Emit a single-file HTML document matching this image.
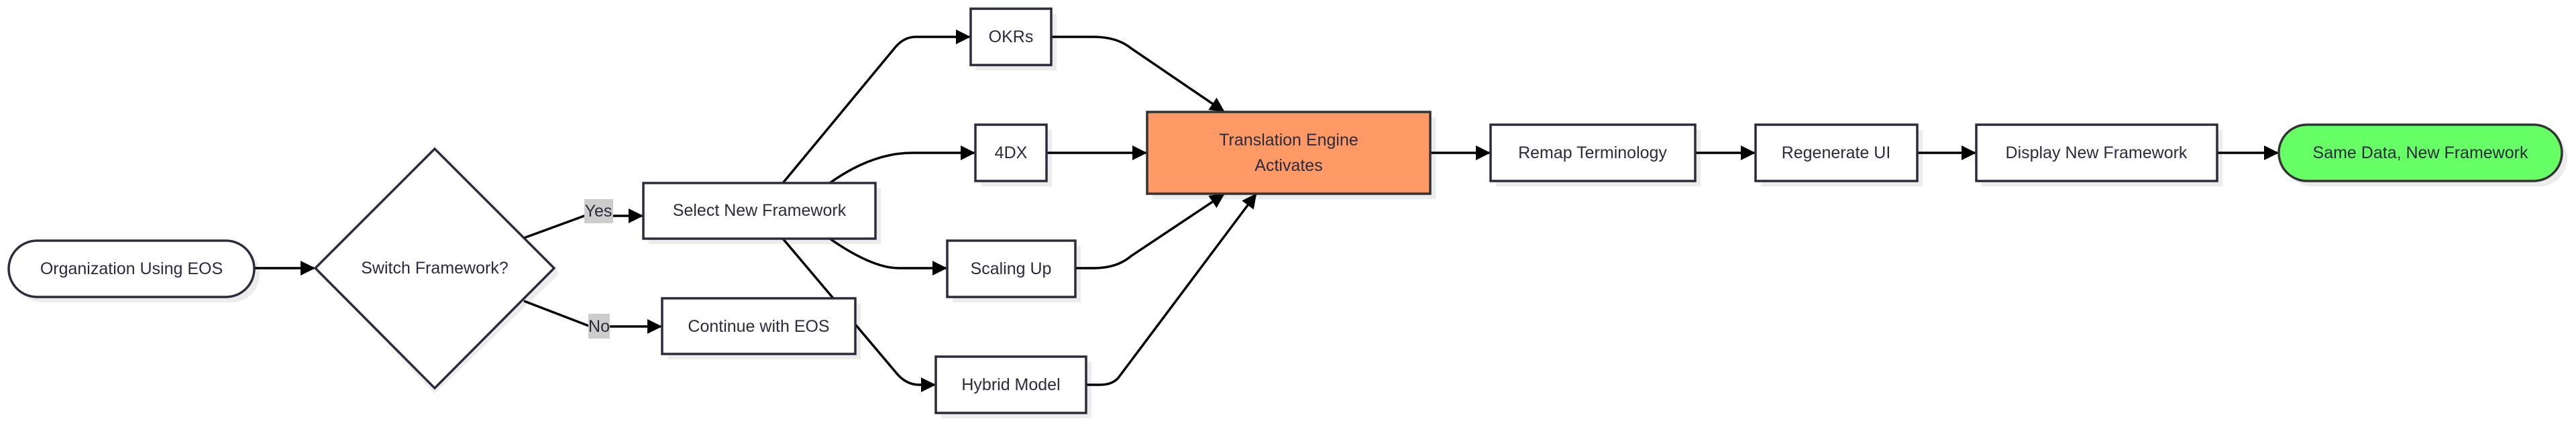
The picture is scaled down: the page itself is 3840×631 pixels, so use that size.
<!DOCTYPE html>
<html><head><meta charset="utf-8"><style>
html,body{margin:0;padding:0;background:#fff;width:3840px;height:631px;overflow:hidden}
svg{display:block}
text{font-family:"Liberation Sans",sans-serif;font-size:25px;fill:#2b2b3d;text-anchor:middle;dominant-baseline:central}
.n{fill:#fff;stroke:#2b2b3d;stroke-width:3.5}
.s{fill:#ececec}
.e{fill:none;stroke:#000;stroke-width:3.5}
</style></head><body>
<svg width="3840" height="631" viewBox="0 0 3840 631">
<defs><marker id="a" markerWidth="10" markerHeight="10" refX="9" refY="5" orient="auto" markerUnits="userSpaceOnUse" viewBox="0 0 10 10"><path d="M0,0L10,5L0,10z" fill="#000"/></marker>
<marker id="b" markerWidth="22" markerHeight="22" refX="20" refY="11" orient="auto" markerUnits="userSpaceOnUse" viewBox="0 0 22 22"><path d="M0,0L22,11L0,22z" fill="#000"/></marker></defs>

<!-- shadows -->
<rect class="s" x="21" y="367" width="366" height="84" rx="42"/>
<polygon class="s" points="648,230 834,408 648,587 478,408"/>
<rect class="s" x="967" y="281" width="346" height="83"/>
<rect class="s" x="995" y="453" width="288" height="83"/>
<rect class="s" x="1455" y="21" width="120" height="84"/>
<rect class="s" x="1462" y="194" width="106" height="84"/>
<rect class="s" x="1420" y="367" width="191" height="84"/>
<rect class="s" x="1403" y="540" width="224" height="84"/>
<rect class="s" x="1718" y="175" width="422" height="122"/>
<rect class="s" x="2230" y="194" width="305" height="84"/>
<rect class="s" x="2625" y="194" width="241" height="84"/>
<rect class="s" x="2954" y="194" width="359" height="84"/>
<rect class="s" x="3405" y="194" width="422" height="84" rx="42"/>

<!-- edges -->
<path class="e" d="M379,400H468" marker-end="url(#b)"/>
<path class="e" d="M781,355L871,322H957" marker-end="url(#b)"/>
<path class="e" d="M781,449L880,487H985" marker-end="url(#b)"/>
<path class="e" d="M1167,273L1335,70Q1348,55 1365,55H1445" marker-end="url(#b)"/>
<path class="e" d="M1237,273Q1300,228 1360,228H1452" marker-end="url(#b)"/>
<path class="e" d="M1237,356Q1300,400 1340,400H1410" marker-end="url(#b)"/>
<path class="e" d="M1167,356L1335,555Q1350,574 1370,574H1393" marker-end="url(#b)"/>
<path class="e" d="M1567,55H1630Q1665,55 1686,72L1824,166" marker-end="url(#b)"/>
<path class="e" d="M1560,228H1708" marker-end="url(#b)"/>
<path class="e" d="M1603,400H1630Q1665,400 1686,382L1824,290" marker-end="url(#b)"/>
<path class="e" d="M1619,574H1640Q1660,574 1669,561L1872,290" marker-end="url(#b)"/>
<path class="e" d="M2132,228H2220" marker-end="url(#b)"/>
<path class="e" d="M2527,228H2615" marker-end="url(#b)"/>
<path class="e" d="M2858,228H2944" marker-end="url(#b)"/>
<path class="e" d="M3305,228H3395" marker-end="url(#b)"/>

<!-- edge labels -->
<rect x="871" y="297" width="43" height="36" fill="#ccc"/><text x="892" y="315">Yes</text>
<rect x="877" y="468" width="32" height="37" fill="#ccc"/><text x="893" y="487">No</text>

<!-- nodes -->
<rect class="n" x="13" y="359" width="366" height="84" rx="42"/><text x="196" y="401">Organization Using EOS</text>
<polygon class="n" points="648,222 826,400 648,579 470,400"/><text x="648" y="400">Switch Framework?</text>
<rect class="n" x="959" y="273" width="346" height="83"/><text x="1132" y="314">Select New Framework</text>
<rect class="n" x="987" y="445" width="288" height="83"/><text x="1131" y="487">Continue with EOS</text>
<rect class="n" x="1447" y="13" width="120" height="84"/><text x="1507" y="55">OKRs</text>
<rect class="n" x="1454" y="186" width="106" height="84"/><text x="1507" y="228">4DX</text>
<rect class="n" x="1412" y="359" width="191" height="84"/><text x="1507" y="401">Scaling Up</text>
<rect class="n" x="1395" y="532" width="224" height="84"/><text x="1507" y="574">Hybrid Model</text>
<rect x="1710" y="167" width="422" height="122" fill="#ff9966" stroke="#333" stroke-width="3.5"/>
<text x="1921" y="209">Translation Engine</text><text x="1921" y="247">Activates</text>
<rect class="n" x="2222" y="186" width="305" height="84"/><text x="2374" y="228">Remap Terminology</text>
<rect class="n" x="2617" y="186" width="241" height="84"/><text x="2737" y="228">Regenerate UI</text>
<rect class="n" x="2946" y="186" width="359" height="84"/><text x="3125" y="228">Display New Framework</text>
<rect x="3397" y="186" width="422" height="84" rx="42" fill="#66ff66" stroke="#333" stroke-width="3.5"/><text x="3608" y="228">Same Data, New Framework</text>
</svg>
</body></html>
